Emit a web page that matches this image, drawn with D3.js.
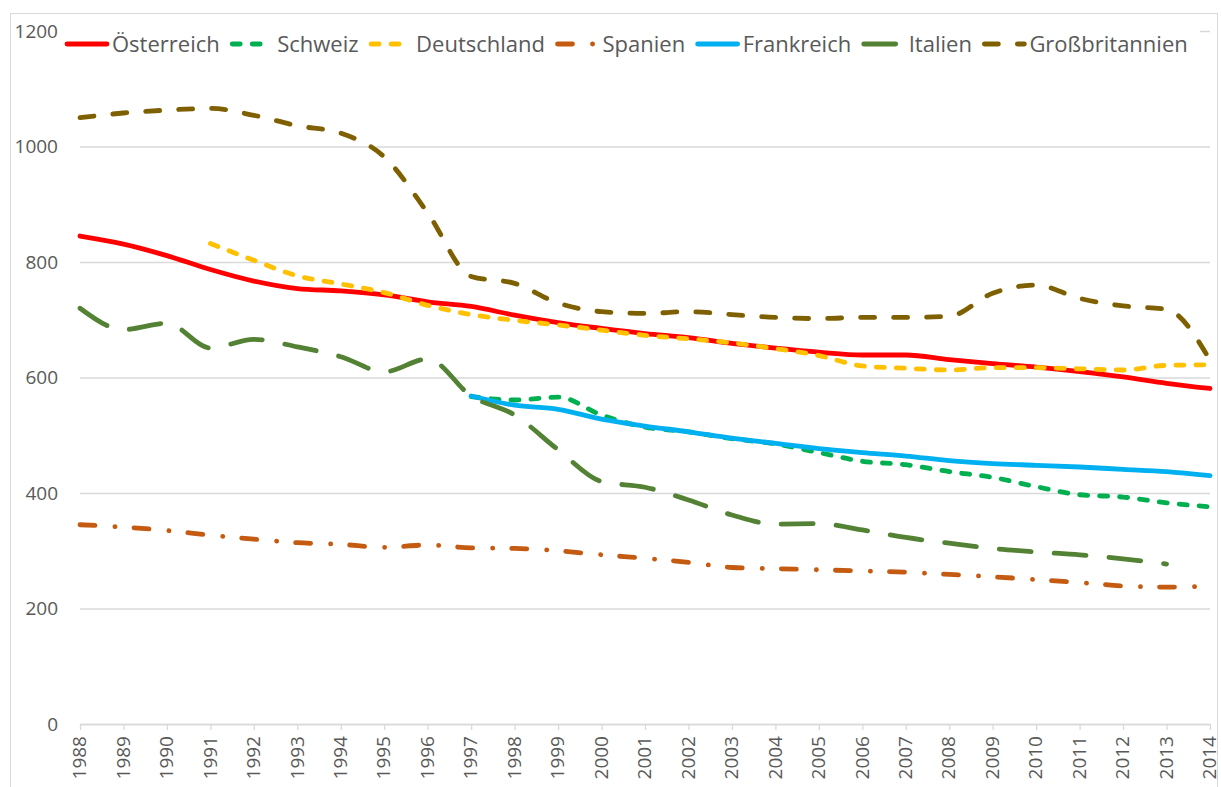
<!DOCTYPE html>
<html>
<head>
<meta charset="utf-8">
<script src="https://cdn.jsdelivr.net/npm/d3@7"></script>
<style>
  body { margin: 0; background: #fff; }
  text { font-family: "Open Sans", "Noto Sans", sans-serif; fill: #595959; }
</style>
</head>
<body>
<div id="chart"></div>
<script>
// years on the x axis
var years = d3.range(1988, 2015);
var yTicks = [0, 200, 400, 600, 800, 1000, 1200];

// series values, null = no data
var oesterreich = [845, 831, 811, 787, 767, 754, 750, 743, 731, 723, 708, 695, 685, 676, 669, 659, 651, 644, 639, 639, 631, 624, 618, 610, 601, 590, 581];
var schweiz = [null, null, null, null, null, null, null, null, null, 567, 561, 566, 535, 514, 506, 494, 485, 470, 455, 449, 437, 427, 411, 397, 393, 383, 376];
var deutschland = [null, null, null, 832, 803, 776, 762, 747, 725, 709, 699, 691, 682, 673, 667, 660, 650, 638, 620, 616, 613, 617, 617, 615, 613, 621, 622];
var spanien = [345, 341, 335, 327, 320, 314, 311, 306, 310, 305, 304, 300, 293, 287, 280, 271, 269, 267, 265, 263, 259, 255, 250, 245, 239, 237, 239];
var frankreich = [null, null, null, null, null, null, null, null, null, 568, 552, 545, 528, 516, 506, 495, 486, 477, 470, 464, 456, 451, 448, 445, 441, 437, 430];
var italien = [720, 683, 694, 651, 666, 653, 636, 610, 632, 568, 535, 475, 420, 410, 388, 362, 346, 347, 336, 323, 313, 304, 298, 293, 286, 277, null];
var grossbritannien = [1050, 1058, 1063, 1066, 1054, 1036, 1023, 982, 885, 775, 763, 729, 714, 711, 714, 709, 704, 702, 704, 704, 706, 746, 760, 737, 724, 718, 630];

var series = [
  {name: "Österreich", values: oesterreich, color: "#FF0000", dash: null},
  {name: "Schweiz", values: schweiz, color: "#00B050", dash: "8,12"},
  {name: "Deutschland", values: deutschland, color: "#FFC000", dash: "8,12"},
  {name: "Spanien", values: spanien, color: "#C55A11", dash: "15,20,0.1,19"},
  {name: "Frankreich", values: frankreich, color: "#00B0F0", dash: null},
  {name: "Italien", values: italien, color: "#548235", dash: "32,23"},
  {name: "Großbritannien", values: grossbritannien, color: "#7F6000", dash: "14,19"}
];

var W = 1221, H = 787;
var plotLeft = 80, plotRight = 1210, plotTop = 31, plotBottom = 724;

var svg = d3.select("#chart")
  .append("svg")
  .attr("width", W)
  .attr("height", H);

// chart border
svg.append("rect")
  .attr("x", 10.5).attr("y", 13.5)
  .attr("width", 1207).attr("height", 820)
  .attr("fill", "none")
  .attr("stroke", "#d9d9d9");

var x = d3.scalePoint()
  .domain(years)
  .range([plotLeft, plotRight]);

var y = d3.scaleLinear()
  .domain([0, 1200])
  .range([plotBottom, plotTop]);

// gridlines + y labels
var yAxis = svg.append("g")
  .attr("transform", "translate(" + plotLeft + ",0)")
  .call(d3.axisLeft(y).tickValues(yTicks).tickSize(-(plotRight - plotLeft)).tickPadding(22).tickFormat(d3.format("d")));
yAxis.select(".domain").remove();
yAxis.selectAll(".tick line").attr("stroke", "#d9d9d9").attr("stroke-width", 1.3);
yAxis.selectAll(".tick text")
  .attr("font-size", 19)
  .attr("font-family", "'Open Sans', 'Noto Sans', sans-serif")
  .attr("fill", "#595959");

// x axis
var xAxis = svg.append("g")
  .attr("transform", "translate(0," + plotBottom + ")")
  .call(d3.axisBottom(x).tickSize(6).tickSizeOuter(0));
xAxis.select(".domain").attr("stroke", "#d9d9d9").attr("stroke-width", 1.3);
xAxis.selectAll(".tick line").attr("stroke", "#d9d9d9").attr("stroke-width", 1.3);
xAxis.selectAll(".tick text")
  .attr("font-size", 19)
  .attr("font-family", "'Open Sans', 'Noto Sans', sans-serif")
  .attr("fill", "#595959")
  .attr("text-anchor", "end")
  .attr("dy", "0.3em")
  .attr("transform", "translate(0,12) rotate(-90)")
  .attr("x", 0)
  .attr("y", 0);

var line = d3.line()
  .defined(function(d) { return d != null; })
  .x(function(d, i) { return x(years[i]); })
  .y(function(d) { return y(d); })
  .curve(d3.curveMonotoneX);

svg.selectAll(".series")
  .data(series)
  .enter()
  .append("path")
  .attr("class", "series")
  .attr("d", function(s) { return line(s.values); })
  .attr("fill", "none")
  .attr("stroke", function(s) { return s.color; })
  .attr("stroke-width", 4.8)
  .attr("stroke-linecap", "round")
  .attr("stroke-linejoin", "round")
  .attr("stroke-dasharray", function(s) { return s.dash; });

// legend
var legend = svg.append("g");
legend.append("rect")
  .attr("x", 60).attr("y", 26)
  .attr("width", 1140).attr("height", 36)
  .attr("fill", "#fff");

var lx = 67, ly = 44;
series.forEach(function(s) {
  legend.append("line")
    .attr("x1", lx).attr("x2", lx + 40)
    .attr("y1", ly).attr("y2", ly)
    .attr("stroke", s.color)
    .attr("stroke-width", 4.8)
    .attr("stroke-linecap", "round")
    .attr("stroke-dasharray", s.dash);
  var t = legend.append("text")
    .attr("x", lx + 45)
    .attr("y", ly)
    .attr("dy", "0.35em")
    .attr("font-size", 22)
    .text(s.name);
  lx = lx + 45 + t.node().getComputedTextLength() + 12.5;
});
</script>
</body>
</html>
